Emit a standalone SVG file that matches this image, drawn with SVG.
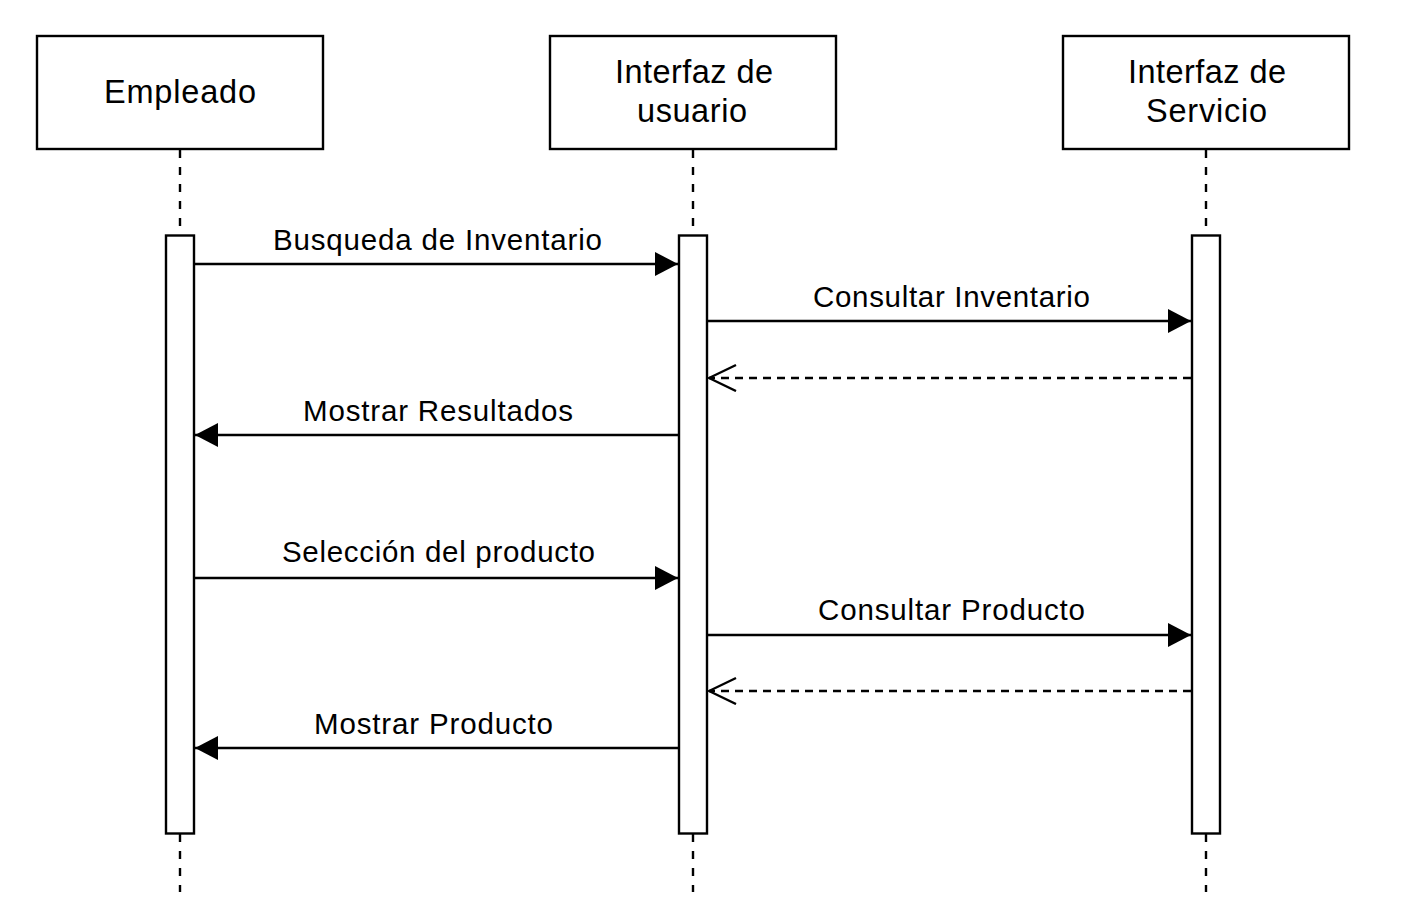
<svg xmlns="http://www.w3.org/2000/svg" width="1403" height="924" viewBox="0 0 1403 924">
<style>
.box{fill:#fff;stroke:#000;stroke-width:2.4}
.life{stroke:#000;stroke-width:2.4;stroke-dasharray:8 9;fill:none}
.msg{stroke:#000;stroke-width:2.4;fill:none}
.ret{stroke:#000;stroke-width:2.4;fill:none;stroke-dasharray:8 6}
.pt{font-family:"Liberation Sans",Arial,sans-serif;font-size:32.5px;fill:#000;text-anchor:middle}
.mt{font-family:"Liberation Sans",Arial,sans-serif;font-size:29.5px;fill:#000;text-anchor:middle}
</style>
<defs>
<marker id="filled" markerUnits="userSpaceOnUse" markerWidth="26" markerHeight="26" refX="23" refY="12" orient="auto">
<path d="M0,0 L23,12 L0,24 Z" fill="#000"/>
</marker>
<marker id="open" markerUnits="userSpaceOnUse" markerWidth="30" markerHeight="30" refX="28" refY="14" orient="auto">
<path d="M1,1 L28,14 L1,27" fill="none" stroke="#000" stroke-width="2.4"/>
</marker>
</defs>
<rect width="1403" height="924" fill="#fff"/>
<g id="lifelines">
<line class="life" x1="180" y1="150" x2="180" y2="235"/>
<line class="life" x1="180" y1="834" x2="180" y2="892"/>
<line class="life" x1="693" y1="150" x2="693" y2="235"/>
<line class="life" x1="693" y1="834" x2="693" y2="892"/>
<line class="life" x1="1206" y1="150" x2="1206" y2="235"/>
<line class="life" x1="1206" y1="834" x2="1206" y2="892"/>
</g>
<g id="empleado">
<rect class="box" x="37" y="36" width="286" height="113"/>
<text class="pt" x="180" y="103" textLength="152" lengthAdjust="spacing">Empleado</text>
<rect class="box" x="166" y="235.5" width="28" height="598"/>
</g>
<g id="interfaz-usuario">
<rect class="box" x="550" y="36" width="286" height="113"/>
<text class="pt" x="694" y="83" textLength="158" lengthAdjust="spacing">Interfaz de</text>
<text class="pt" x="692" y="122" textLength="110" lengthAdjust="spacing">usuario</text>
<rect class="box" x="679" y="235.5" width="28" height="598"/>
</g>
<g id="interfaz-servicio">
<rect class="box" x="1063" y="36" width="286" height="113"/>
<text class="pt" x="1207" y="83" textLength="158" lengthAdjust="spacing">Interfaz de</text>
<text class="pt" x="1206.5" y="122" textLength="121" lengthAdjust="spacing">Servicio</text>
<rect class="box" x="1192" y="235.5" width="28" height="598"/>
</g>
<g id="connectors">
<line class="msg" x1="195" y1="264" x2="678" y2="264" marker-end="url(#filled)"/>
<text class="mt" x="437.5" y="250" textLength="329" lengthAdjust="spacing">Busqueda de Inventario</text>
<line class="msg" x1="708" y1="321" x2="1191" y2="321" marker-end="url(#filled)"/>
<text class="mt" x="951.5" y="307" textLength="277" lengthAdjust="spacing">Consultar Inventario</text>
<line class="ret" x1="1191" y1="378" x2="709" y2="378" marker-end="url(#open)"/>
<line class="msg" x1="678" y1="435" x2="195" y2="435" marker-end="url(#filled)"/>
<text class="mt" x="438" y="421" textLength="270" lengthAdjust="spacing">Mostrar Resultados</text>
<line class="msg" x1="195" y1="578" x2="678" y2="578" marker-end="url(#filled)"/>
<text class="mt" x="438.5" y="562" textLength="313" lengthAdjust="spacing">Selección del producto</text>
<line class="msg" x1="708" y1="635" x2="1191" y2="635" marker-end="url(#filled)"/>
<text class="mt" x="951.5" y="620" textLength="267" lengthAdjust="spacing">Consultar Producto</text>
<line class="ret" x1="1191" y1="691" x2="709" y2="691" marker-end="url(#open)"/>
<line class="msg" x1="678" y1="748" x2="195" y2="748" marker-end="url(#filled)"/>
<text class="mt" x="433.5" y="734" textLength="239" lengthAdjust="spacing">Mostrar Producto</text>
</g>
</svg>
